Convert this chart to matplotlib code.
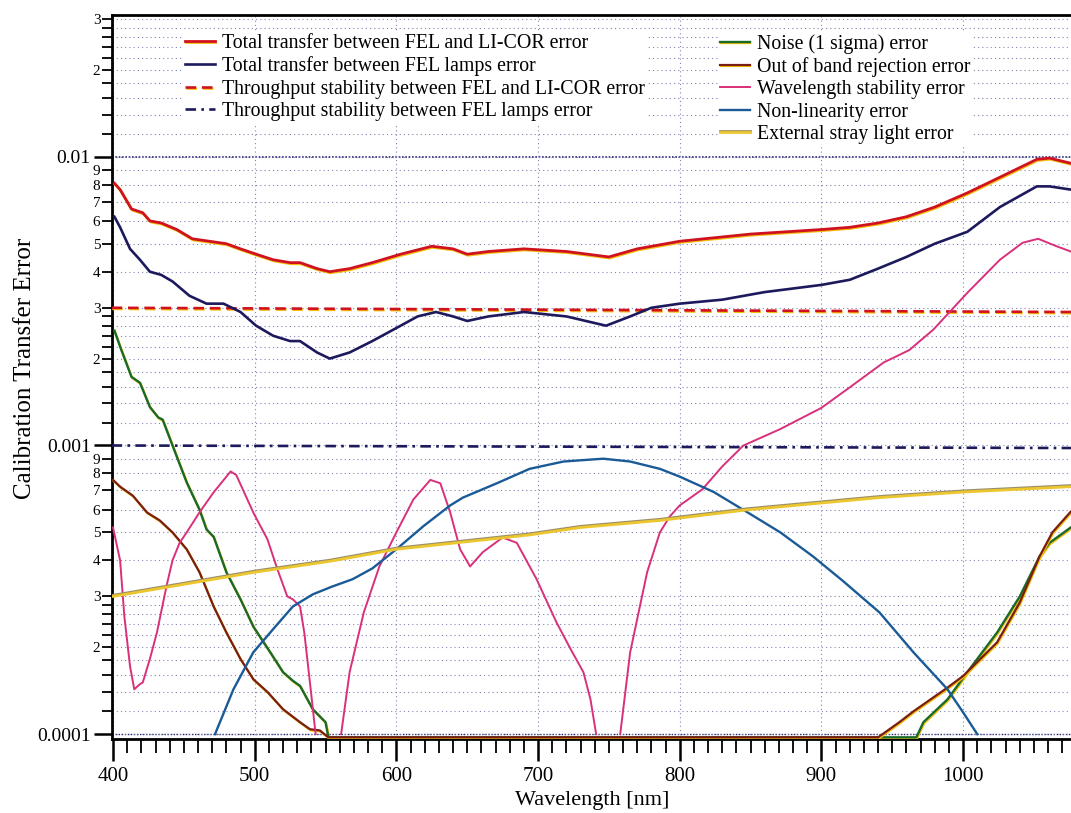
"""
Calibration transfer error budget vs wavelength
"""

import numpy as np
import matplotlib
matplotlib.use('Agg')
import matplotlib.pyplot as plt
import matplotlib.ticker as mticker
import matplotlib.patheffects as pe

plt.rcParams['font.family'] = ['Liberation Serif', 'DejaVu Serif']

# Total transfer between FEL and LI-COR
red_wl = [401, 405, 413, 421, 426, 434, 445, 456, 468, 480, 490, 501, 513, 525, 532, 544, 553,
          567, 583, 603, 625, 640, 650, 665, 690, 720, 750, 770, 800, 850, 900, 920, 940, 960,
          980, 1003, 1026, 1052, 1061, 1076]
red_val = [0.0081, 0.0077, 0.0066, 0.0064, 0.0060, 0.0059, 0.0056, 0.0052, 0.0051, 0.0050, 0.0048,
           0.0046, 0.0044, 0.0043, 0.0043, 0.0041, 0.0040, 0.0041, 0.0043, 0.0046, 0.0049, 0.0048,
           0.0046, 0.0047, 0.0048, 0.0047, 0.0045, 0.0048, 0.0051, 0.0054, 0.0056, 0.0057, 0.0059,
           0.0062, 0.0067, 0.0075, 0.0085, 0.0098, 0.0099, 0.0095]

# Total transfer between FEL lamps
navy_wl = [401, 405, 412, 419, 426, 434, 442, 454, 466, 478, 490, 501, 513, 525, 532, 544, 553,
           567, 583, 603, 615, 628, 640, 650, 665, 690, 720, 748, 765, 780, 800, 830, 860, 900,
           920, 940, 960, 980, 1003, 1026, 1052, 1061, 1076]
navy_val = [0.0062, 0.0057, 0.0048, 0.0044, 0.0040, 0.0039, 0.0037, 0.0033, 0.0031, 0.0031, 0.0029,
            0.0026, 0.0024, 0.0023, 0.0023, 0.0021, 0.0020, 0.0021, 0.0023, 0.0026, 0.0028, 0.0029,
            0.0028, 0.0027, 0.0028, 0.0029, 0.0028, 0.0026, 0.0028, 0.0030, 0.0031, 0.0032, 0.0034,
            0.0036, 0.00375, 0.0041, 0.0045, 0.0050, 0.0055, 0.0067, 0.0079, 0.0079, 0.0077]

# Throughput stability (flat lines)
thr_wl = [399, 1078]
thr_licor_val = [0.0030, 0.0029]
thr_fel_val = [0.00100, 0.00098]

# Noise (1 sigma)
noise_wl = [401, 405, 413, 419, 426, 432, 435, 441, 452, 461, 466, 471, 480, 490, 499, 511, 520,
            527, 532, 541, 550, 552, 967, 972, 989, 1003, 1024, 1040, 1054, 1061, 1076]
noise_val = [0.0025, 0.0022, 0.00173, 0.00165, 0.00136, 0.00125, 0.00123, 0.00103, 0.000745,
             0.00060, 0.000512, 0.000483, 0.000364, 0.000293, 0.000236, 0.000192, 0.000164,
             0.000153, 0.000147, 0.000122, 0.00011, 0.0000975, 0.0000975, 0.00011, 0.000132,
             0.000164, 0.000225, 0.0003, 0.000413, 0.00046, 0.00052]

# Out of band rejection
oob_wl = [400, 405, 414, 424, 433, 442, 452, 461, 471, 480, 490, 499, 509, 520, 532, 539, 546,
          552, 940, 955, 965, 989, 1000, 1024, 1040, 1054, 1063, 1076]
oob_val = [0.00076, 0.00072, 0.00067, 0.000586, 0.00055, 0.00050, 0.000437, 0.000364, 0.000277,
           0.000225, 0.000182, 0.000155, 0.00014, 0.000122, 0.00011, 0.000104, 0.000103, 0.0000975,
           0.0000975, 0.00011, 0.00012, 0.000145, 0.000159, 0.000208, 0.000286, 0.000413, 0.0005,
           0.00059]

# Wavelength stability (gaps where it drops below the axis)
wave_wl = [400, 405, 408, 412, 415, 419, 421, 426, 431, 438, 442, 447, 452, 461, 471, 483, 487,
           499, 509, 516, 523, 527, 532, 535, 539, 543, 552,
           561, 567, 577, 588, 600, 612, 624, 631, 638, 645, 652, 661, 675, 685, 699, 713, 723,
           732, 737, 741, 750,
           758, 765, 777, 786, 793, 800, 816, 830, 845, 871, 900, 920, 944, 962, 979, 1003, 1026,
           1042, 1053, 1066, 1076]
wave_val = [0.00052, 0.00040, 0.000256, 0.000172, 0.000143, 0.000149, 0.000151, 0.000182,
            0.000225, 0.00033, 0.00040, 0.00046, 0.0005, 0.000586, 0.000688, 0.000813, 0.00079,
            0.000586, 0.000473, 0.000373, 0.0003, 0.000293, 0.000277, 0.000225, 0.000151, 0.0001,
            np.nan,
            0.0001, 0.000164, 0.000264, 0.000381, 0.0005, 0.00065, 0.00076, 0.00074, 0.000586,
            0.000437, 0.000381, 0.000427, 0.00048, 0.00046, 0.000344, 0.000244, 0.000197,
            0.000164, 0.000132, 0.0001, np.nan,
            0.0001, 0.000192, 0.000364, 0.0005, 0.000568, 0.00062, 0.000705, 0.000846, 0.001,
            0.00114, 0.00135, 0.00159, 0.00194, 0.00214, 0.00252, 0.00338, 0.0044, 0.00504,
            0.0052, 0.0049, 0.0047]

# Non-linearity
nl_wl = [472, 485, 499, 513, 527, 541, 555, 569, 583, 600, 619, 638, 647, 671, 694, 718, 746,
         765, 786, 800, 824, 847, 871, 894, 915, 941, 965, 989, 1000, 1010]
nl_val = [0.0001, 0.000143, 0.000192, 0.000231, 0.000277, 0.000305, 0.000325, 0.000344, 0.000375,
          0.000437, 0.000525, 0.00062, 0.00066, 0.00074, 0.00083, 0.00088, 0.0009, 0.00088,
          0.00083, 0.00078, 0.00069, 0.00059, 0.0005, 0.000413, 0.00034, 0.000264, 0.000192,
          0.000143, 0.000119, 0.0001]

# External stray light
stray_wl = [400, 500, 553, 600, 694, 730, 786, 847, 941, 1000, 1076]
stray_val = [0.0003, 0.000364, 0.000397, 0.000437, 0.00049, 0.00052, 0.00055, 0.000598, 0.00066,
             0.00069, 0.00072]

W, H = 1071, 813
fig = plt.figure(figsize=(W / 100, H / 100), dpi=100)
ax = fig.add_axes([111.6 / W, 74 / H, 962 / W, 724 / H])
ax.set_yscale('log')
ax.set_xlim(399, 1078)
ax.set_ylim(0.0000962, 0.031)


def printed(edge, off=(0.5, -0.8)):
    # imitate the two-tone look of the printed lines
    return [pe.SimpleLineShadow(offset=off, shadow_color=edge, alpha=1.0, rho=1.0), pe.Normal()]


yel = '#f2bf10'
l_red, = ax.plot(red_wl, red_val, color='#d0121f', lw=2.0, path_effects=printed(yel), zorder=5,
                 label='Total transfer between FEL and LI-COR error')
l_navy, = ax.plot(navy_wl, navy_val, color='#1c1a5c', lw=1.9, zorder=5,
                  label='Total transfer between FEL lamps error')
l_thr1, = ax.plot(thr_wl, thr_licor_val, color='#d0121f', lw=1.9, ls=(0, (4, 2.2)),
                  path_effects=printed(yel), zorder=4,
                  label='Throughput stability between FEL and LI-COR error')
l_thr2, = ax.plot(thr_wl, thr_fel_val, color='#1c1a5c', lw=1.9, ls=(0, (4, 2, 1, 2)), zorder=4,
                  label='Throughput stability between FEL lamps error')
l_noise, = ax.plot(noise_wl, noise_val, color='#1a6a2a', lw=1.7, path_effects=printed(yel),
                   zorder=5, label='Noise (1 sigma) error')
l_oob, = ax.plot(oob_wl, oob_val, color='#7a1e12', lw=1.6, path_effects=printed(yel), zorder=5,
                 label='Out of band rejection error')
l_wave, = ax.plot(wave_wl, wave_val, color='#d8307a', lw=1.4, zorder=5,
                  label='Wavelength stability error')
l_nl, = ax.plot(nl_wl, nl_val, color='#1a5a96', lw=1.7, zorder=5, label='Non-linearity error')
l_stray, = ax.plot(stray_wl, stray_val, color='#ecc62e', lw=2.0,
                   path_effects=printed('#9a8e6a', off=(0, 0.8)), zorder=5,
                   label='External stray light error')

# axis ticks
ax.xaxis.set_major_locator(mticker.MultipleLocator(100))
ax.xaxis.set_minor_locator(mticker.MultipleLocator(10))
ax.xaxis.set_major_formatter(mticker.FormatStrFormatter('%d'))

mults = [1.2, 1.4, 1.6, 1.8, 2, 2.2, 2.4, 2.6, 2.8, 3, 4, 5, 6, 7, 8, 9]
minor_pos = [m * d for d in (1e-4, 1e-3, 1e-2) for m in mults if m * d < 0.031]
ax.yaxis.set_major_locator(mticker.FixedLocator([1e-4, 1e-3, 1e-2]))
ax.yaxis.set_major_formatter(mticker.FixedFormatter(['0.0001', '0.001', '0.01']))
ax.yaxis.set_minor_locator(mticker.FixedLocator(minor_pos))


def minor_label(v, pos):
    m = v / 10 ** np.floor(np.log10(v) + 1e-9)
    m = round(m, 1)
    return str(int(m)) if abs(m - round(m)) < 1e-6 else ''


ax.yaxis.set_minor_formatter(mticker.FuncFormatter(minor_label))

ax.tick_params(axis='x', which='major', direction='out', length=16, width=1.8, labelsize=15, pad=4)
ax.tick_params(axis='x', which='minor', direction='out', length=10, width=1.3)
ax.tick_params(axis='y', which='major', direction='out', length=13, width=1.8, labelsize=14, pad=2)
ax.tick_params(axis='y', which='minor', direction='out', length=7, width=1.3, labelsize=11, pad=1)

for side in ['left', 'bottom', 'top']:
    ax.spines[side].set_linewidth(2.0)
ax.spines['right'].set_visible(False)

# dotted grid
gcol = '#8484b4'
ax.grid(True, which='both', axis='y', color=gcol, lw=0.8, ls=(0, (1, 2.8)), zorder=0)
ax.grid(True, which='major', axis='x', color=gcol, lw=0.8, ls=(0, (1, 2.8)), zorder=0)
ax.axhline(0.01, color='#2a2a78', lw=1.2, ls=(0, (1, 1)), zorder=1)
ax.axhline(0.0001, color='#2a2a78', lw=1.0, ls=(0, (1, 1.2)), zorder=1)

ax.set_xlabel('Wavelength [nm]', fontsize=16, labelpad=4)
fig.text(25 / W, 1 - 368 / H, 'Calibration Transfer Error', rotation=90, fontsize=18,
         ha='center', va='center')

leg_kw = dict(loc='upper left', bbox_transform=fig.transFigure, frameon=True, facecolor='white',
              edgecolor='none', framealpha=1, fancybox=False, fontsize=14.3, handlelength=1.5,
              handletextpad=0.35, labelspacing=0.17, borderpad=0.1, borderaxespad=0)
leg1 = ax.legend(handles=[l_red, l_navy, l_thr1, l_thr2],
                 bbox_to_anchor=(183 / W, 1 - 32 / H), **leg_kw)
ax.add_artist(leg1)
leg2 = ax.legend(handles=[l_noise, l_oob, l_wave, l_nl, l_stray],
                 bbox_to_anchor=(718 / W, 1 - 32 / H), **leg_kw)
leg1.set_zorder(10)
leg2.set_zorder(10)

fig.savefig('out.png', dpi=100)
